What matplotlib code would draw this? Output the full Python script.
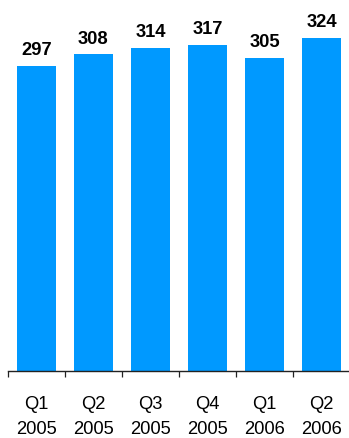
import matplotlib
matplotlib.use("Agg")
import matplotlib.pyplot as plt

quarters = ["Q1", "Q2", "Q3", "Q4", "Q1", "Q2"]
years = ["2005", "2005", "2005", "2005", "2006", "2006"]
values = [297, 308, 314, 317, 305, 324]

plt.rcParams["font.family"] = ["Liberation Sans", "DejaVu Sans"]

W, H = 349, 439
fig = plt.figure(figsize=(W / 100, H / 100), dpi=100)
ax = fig.add_axes([8 / W, 67 / H, 342 / W, 372 / H])

x = list(range(len(values)))
ax.bar(x, values, width=0.67, color="#0099FF", edgecolor="none")

for xi, v in zip(x, values):
    ax.annotate(str(v), (xi, v), xytext=(0, 8.6), textcoords="offset points",
                ha="center", va="baseline", fontsize=13.2, fontweight="bold",
                color="#000000")

ax.set_xlim(-0.5, len(values) - 0.5)
ax.set_ylim(0, 362)

for s in ["top", "right", "left"]:
    ax.spines[s].set_visible(False)
ax.spines["bottom"].set_color("#222222")
ax.spines["bottom"].set_linewidth(1.0)
ax.set_yticks([])

ax.set_xticks([i - 0.5 for i in range(len(values))])
ax.set_xticklabels([])
ax.tick_params(axis="x", which="major", direction="out", length=4.5, width=0.9, color="#222222")

ax.set_xticks(x, minor=True)
ax.set_xticklabels([f"{q}\n{y}" for q, y in zip(quarters, years)], minor=True,
                   fontsize=13.2, linespacing=1.6)
ax.tick_params(axis="x", which="minor", length=0, pad=17.5)

fig.savefig("out.png", dpi=100)
